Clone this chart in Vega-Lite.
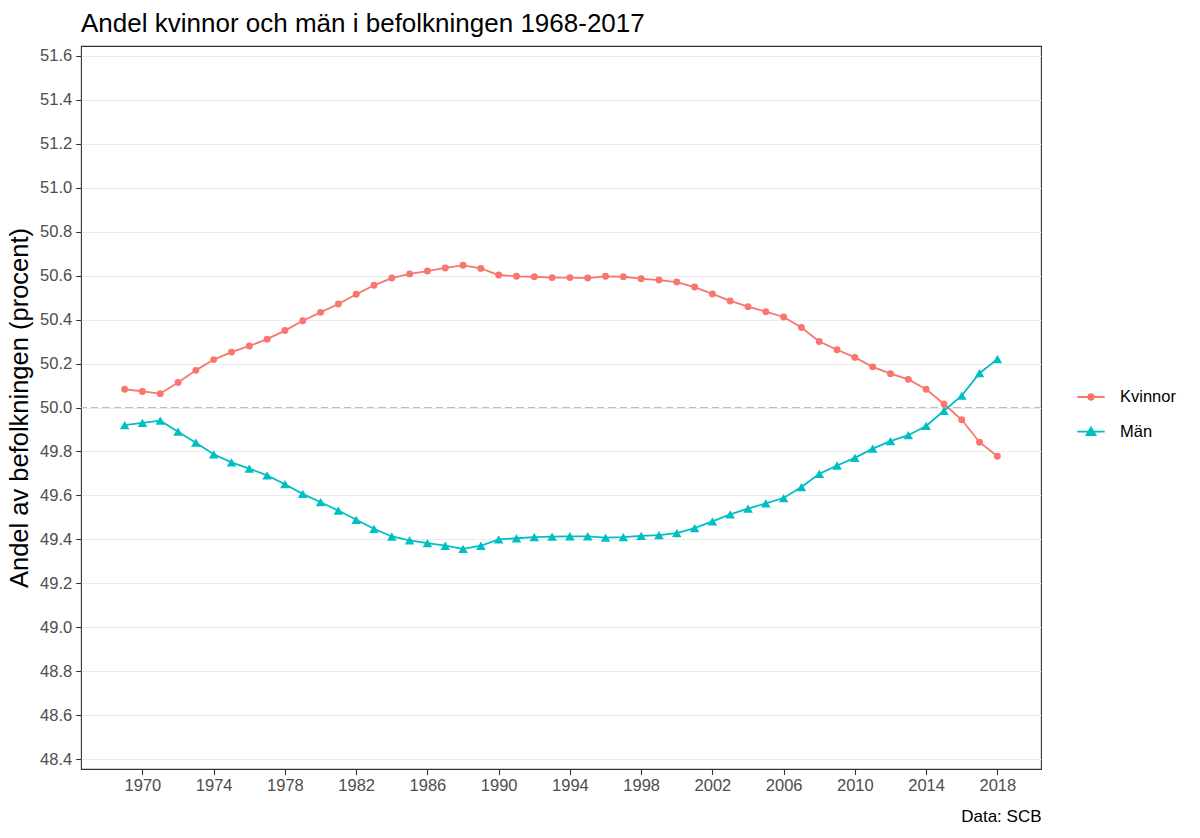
{
  "$schema": "https://vega.github.io/schema/vega-lite/v6.json",
  "width": 960,
  "height": 723,
  "autosize": {"type": "none"},
  "padding": {"left": 81, "top": 46, "right": 159, "bottom": 69},
  "background": "white",
  "title": {
    "text": "Andel kvinnor och män i befolkningen 1968-2017",
    "anchor": "start",
    "frame": "group",
    "fontSize": 26,
    "fontWeight": "normal",
    "color": "#000000",
    "offset": 9
  },
  "config": {
    "font": "Liberation Sans",
    "view": {"stroke": "#333333", "strokeWidth": 1.1}
  },
  "data": {
    "values": [
      {"year": 1969, "kon": "Kvinnor", "andel": 50.083},
      {"year": 1970, "kon": "Kvinnor", "andel": 50.073},
      {"year": 1971, "kon": "Kvinnor", "andel": 50.063},
      {"year": 1972, "kon": "Kvinnor", "andel": 50.114},
      {"year": 1973, "kon": "Kvinnor", "andel": 50.169},
      {"year": 1974, "kon": "Kvinnor", "andel": 50.218},
      {"year": 1975, "kon": "Kvinnor", "andel": 50.252},
      {"year": 1976, "kon": "Kvinnor", "andel": 50.280},
      {"year": 1977, "kon": "Kvinnor", "andel": 50.311},
      {"year": 1978, "kon": "Kvinnor", "andel": 50.350},
      {"year": 1979, "kon": "Kvinnor", "andel": 50.395},
      {"year": 1980, "kon": "Kvinnor", "andel": 50.433},
      {"year": 1981, "kon": "Kvinnor", "andel": 50.471},
      {"year": 1982, "kon": "Kvinnor", "andel": 50.515},
      {"year": 1983, "kon": "Kvinnor", "andel": 50.556},
      {"year": 1984, "kon": "Kvinnor", "andel": 50.589},
      {"year": 1985, "kon": "Kvinnor", "andel": 50.608},
      {"year": 1986, "kon": "Kvinnor", "andel": 50.621},
      {"year": 1987, "kon": "Kvinnor", "andel": 50.635},
      {"year": 1988, "kon": "Kvinnor", "andel": 50.647},
      {"year": 1989, "kon": "Kvinnor", "andel": 50.633},
      {"year": 1990, "kon": "Kvinnor", "andel": 50.603},
      {"year": 1991, "kon": "Kvinnor", "andel": 50.597},
      {"year": 1992, "kon": "Kvinnor", "andel": 50.595},
      {"year": 1993, "kon": "Kvinnor", "andel": 50.591},
      {"year": 1994, "kon": "Kvinnor", "andel": 50.591},
      {"year": 1995, "kon": "Kvinnor", "andel": 50.589},
      {"year": 1996, "kon": "Kvinnor", "andel": 50.597},
      {"year": 1997, "kon": "Kvinnor", "andel": 50.595},
      {"year": 1998, "kon": "Kvinnor", "andel": 50.586},
      {"year": 1999, "kon": "Kvinnor", "andel": 50.580},
      {"year": 2000, "kon": "Kvinnor", "andel": 50.571},
      {"year": 2001, "kon": "Kvinnor", "andel": 50.548},
      {"year": 2002, "kon": "Kvinnor", "andel": 50.517},
      {"year": 2003, "kon": "Kvinnor", "andel": 50.485},
      {"year": 2004, "kon": "Kvinnor", "andel": 50.459},
      {"year": 2005, "kon": "Kvinnor", "andel": 50.436},
      {"year": 2006, "kon": "Kvinnor", "andel": 50.412},
      {"year": 2007, "kon": "Kvinnor", "andel": 50.364},
      {"year": 2008, "kon": "Kvinnor", "andel": 50.300},
      {"year": 2009, "kon": "Kvinnor", "andel": 50.263},
      {"year": 2010, "kon": "Kvinnor", "andel": 50.228},
      {"year": 2011, "kon": "Kvinnor", "andel": 50.185},
      {"year": 2012, "kon": "Kvinnor", "andel": 50.154},
      {"year": 2013, "kon": "Kvinnor", "andel": 50.128},
      {"year": 2014, "kon": "Kvinnor", "andel": 50.083},
      {"year": 2015, "kon": "Kvinnor", "andel": 50.016},
      {"year": 2016, "kon": "Kvinnor", "andel": 49.944},
      {"year": 2017, "kon": "Kvinnor", "andel": 49.842},
      {"year": 2018, "kon": "Kvinnor", "andel": 49.778},
      {"year": 1969, "kon": "Män", "andel": 49.920},
      {"year": 1970, "kon": "Män", "andel": 49.930},
      {"year": 1971, "kon": "Män", "andel": 49.940},
      {"year": 1972, "kon": "Män", "andel": 49.890},
      {"year": 1973, "kon": "Män", "andel": 49.840},
      {"year": 1974, "kon": "Män", "andel": 49.787},
      {"year": 1975, "kon": "Män", "andel": 49.750},
      {"year": 1976, "kon": "Män", "andel": 49.722},
      {"year": 1977, "kon": "Män", "andel": 49.691},
      {"year": 1978, "kon": "Män", "andel": 49.651},
      {"year": 1979, "kon": "Män", "andel": 49.607},
      {"year": 1980, "kon": "Män", "andel": 49.569},
      {"year": 1981, "kon": "Män", "andel": 49.531},
      {"year": 1982, "kon": "Män", "andel": 49.489},
      {"year": 1983, "kon": "Män", "andel": 49.448},
      {"year": 1984, "kon": "Män", "andel": 49.413},
      {"year": 1985, "kon": "Män", "andel": 49.395},
      {"year": 1986, "kon": "Män", "andel": 49.383},
      {"year": 1987, "kon": "Män", "andel": 49.371},
      {"year": 1988, "kon": "Män", "andel": 49.357},
      {"year": 1989, "kon": "Män", "andel": 49.371},
      {"year": 1990, "kon": "Män", "andel": 49.400},
      {"year": 1991, "kon": "Män", "andel": 49.405},
      {"year": 1992, "kon": "Män", "andel": 49.410},
      {"year": 1993, "kon": "Män", "andel": 49.412},
      {"year": 1994, "kon": "Män", "andel": 49.414},
      {"year": 1995, "kon": "Män", "andel": 49.414},
      {"year": 1996, "kon": "Män", "andel": 49.408},
      {"year": 1997, "kon": "Män", "andel": 49.410},
      {"year": 1998, "kon": "Män", "andel": 49.416},
      {"year": 1999, "kon": "Män", "andel": 49.419},
      {"year": 2000, "kon": "Män", "andel": 49.428},
      {"year": 2001, "kon": "Män", "andel": 49.451},
      {"year": 2002, "kon": "Män", "andel": 49.482},
      {"year": 2003, "kon": "Män", "andel": 49.514},
      {"year": 2004, "kon": "Män", "andel": 49.540},
      {"year": 2005, "kon": "Män", "andel": 49.564},
      {"year": 2006, "kon": "Män", "andel": 49.588},
      {"year": 2007, "kon": "Män", "andel": 49.638},
      {"year": 2008, "kon": "Män", "andel": 49.698},
      {"year": 2009, "kon": "Män", "andel": 49.736},
      {"year": 2010, "kon": "Män", "andel": 49.771},
      {"year": 2011, "kon": "Män", "andel": 49.813},
      {"year": 2012, "kon": "Män", "andel": 49.847},
      {"year": 2013, "kon": "Män", "andel": 49.874},
      {"year": 2014, "kon": "Män", "andel": 49.916},
      {"year": 2015, "kon": "Män", "andel": 49.985},
      {"year": 2016, "kon": "Män", "andel": 50.054},
      {"year": 2017, "kon": "Män", "andel": 50.156},
      {"year": 2018, "kon": "Män", "andel": 50.220}
    ]
  },
  "encoding": {
    "x": {
      "field": "year",
      "type": "quantitative",
      "scale": {"domain": [1966.55, 2020.45], "nice": false, "zero": false},
      "axis": {
        "values": [1970, 1974, 1978, 1982, 1986, 1990, 1994, 1998, 2002, 2006, 2010, 2014, 2018],
        "format": "d",
        "grid": false,
        "domain": false,
        "tickColor": "#333333",
        "tickSize": 5.5,
        "tickWidth": 1.1,
        "labelColor": "#4D4D4D",
        "labelFontSize": 16.5,
        "labelPadding": 3,
        "title": "Data: SCB",
        "titleAnchor": "end",
        "titleAlign": "right",
        "titleColor": "#000000",
        "titleFontSize": 17,
        "titleFontWeight": "normal",
        "titlePadding": 14
      }
    },
    "y": {
      "field": "andel",
      "type": "quantitative",
      "scale": {"domain": [48.355, 51.645], "nice": false, "zero": false},
      "axis": {
        "values": [48.4, 48.6, 48.8, 49.0, 49.2, 49.4, 49.6, 49.8, 50.0, 50.2, 50.4, 50.6, 50.8, 51.0, 51.2, 51.4, 51.6],
        "format": ".1f",
        "grid": true,
        "gridColor": "#EBEBEB",
        "gridWidth": 1.1,
        "domain": false,
        "tickColor": "#333333",
        "tickSize": 5.3,
        "tickWidth": 1.1,
        "labelColor": "#4D4D4D",
        "labelFontSize": 16.5,
        "labelPadding": 4,
        "title": "Andel av befolkningen (procent)",
        "titleColor": "#000000",
        "titleFontSize": 25.5,
        "titleFontWeight": "normal",
        "titlePadding": 7
      }
    },
    "color": {
      "field": "kon",
      "type": "nominal",
      "scale": {"domain": ["Kvinnor", "Män"], "range": ["#F8766D", "#00BFC4"]},
      "legend": {
        "orient": "none",
        "legendX": 995,
        "legendY": 336,
        "title": null,
        "padding": 0,
        "symbolSize": 750,
        "symbolStrokeWidth": 1.8,
        "labelFontSize": 16.5,
        "labelColor": "#000000",
        "labelOffset": 14,
        "rowPadding": 10.6,
        "encode": {
          "symbols": {
            "update": {
              "shape": {"signal": "datum.value === 'Män' ? 'M-1,0H1M0,-0.3L0.33,0.25L-0.33,0.25Z' : 'M-1,0H1M0.2,0A0.2,0.2,0,1,1,-0.2,0A0.2,0.2,0,1,1,0.2,0Z'"},
              "fill": {"signal": "scale('color', datum.value)"},
              "stroke": {"signal": "scale('color', datum.value)"},
              "strokeWidth": {"value": 1.8},
              "opacity": {"value": 1},
              "fillOpacity": {"value": 1}
            }
          }
        }
      }
    }
  },
  "layer": [
    {
      "mark": {"type": "rule", "color": "#BEBEBE", "strokeWidth": 1.2, "strokeDash": [7, 4.5]},
      "encoding": {
        "x": null,
        "color": null,
        "y": {"datum": 50, "type": "quantitative"}
      }
    },
    {
      "mark": {"type": "line", "strokeWidth": 1.8}
    },
    {
      "transform": [{"filter": "datum.kon === 'Kvinnor'"}],
      "mark": {"type": "point", "shape": "circle", "filled": true, "opacity": 1, "size": 48}
    },
    {
      "transform": [{"filter": "datum.kon === 'Män'"}],
      "mark": {"type": "point", "shape": "triangle-up", "filled": true, "opacity": 1, "size": 92}
    }
  ]
}
